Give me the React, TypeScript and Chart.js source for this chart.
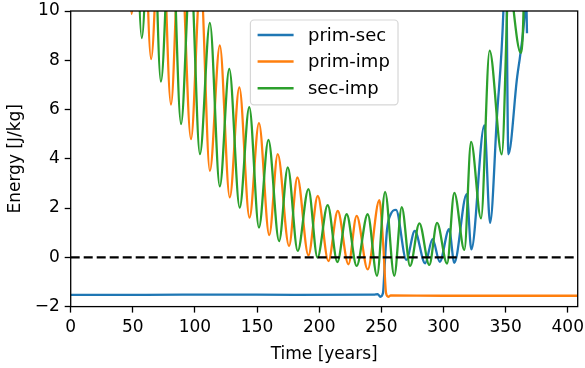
import React, { useEffect, useRef } from 'react';
import { Chart, registerables } from 'chart.js';

Chart.register(...registerables);

// ---- data (years, energy in J/kg) ----
const primSecYears = [0, 60, 120, 180, 244, 247, 249.2, 251.3, 252.7, 254.5, 257.5, 261.8, 270.1, 276.9, 285.2, 291.2, 297, 304.5, 308.7, 318.7, 322.4, 332.9, 337.5, 343, 348.2, 350, 352.2, 359, 365.6, 366.4, 367.2];
const primSecEnergy = [-1.52, -1.52, -1.51, -1.52, -1.51, -1.49, -1.6, -1.45, -0.3, 1.1, 1.75, 1.93, -0.1, 1.07, -0.24, 0.74, -0.18, 1.14, -0.22, 2.57, 0.32, 5.36, 1.4, 5.7, 10, 13.5, 4.18, 7.2, 10, 10.8, 9.1];

const primImpYears = [33, 41.3, 49, 56.7, 64.7, 72.6, 80.7, 88, 96.8, 104.5, 112, 120, 128, 135.7, 143.9, 151.5, 159.8, 166.6, 175.7, 182.4, 191.3, 198.8, 207.4, 214.9, 223.5, 230.1, 239, 248.4, 251.6, 253.8, 255.6, 257.5, 300, 350, 408];
const primImpEnergy = [12.5, 22, 9.88, 17.5, 8.05, 15, 6.2, 13.3, 4.8, 11.3, 3.51, 8.6, 2.43, 6.9, 1.61, 5.45, 0.9, 4.19, 0.46, 3.24, 0.08, 2.49, -0.15, 1.88, -0.28, 1.68, -0.49, 2.32, 0.43, -1.46, -1.6, -1.55, -1.56, -1.56, -1.56];

const secImpYears = [33, 41.3, 49.3, 57.2, 65, 72.6, 80.7, 88.8, 96.4, 104, 112, 120, 127.6, 136, 143.7, 151.5, 159.1, 167.7, 174.7, 182.7, 191.3, 198.6, 206.8, 214.6, 222.1, 230.1, 239, 246.5, 253, 260.4, 266.4, 273.1, 280.6, 288.6, 294.8, 302.9, 308.7, 316.8, 322.2, 330.2, 337.1, 346.9, 353.3, 356.5, 362.2, 364.5, 368];
const secImpEnergy = [24, 11.2, 19.5, 8.9, 16.5, 7.13, 14.2, 5.41, 11.8, 4.19, 9.52, 2.88, 7.65, 2.02, 6.1, 1.21, 4.77, 0.66, 3.65, 0.26, 2.77, -0.01, 2.12, -0.19, 1.75, -0.35, 1.75, -0.75, 2.66, -0.75, 2.04, -0.35, 1.38, -0.31, 1.4, -0.25, 2.62, 0.3, 4.69, 1.58, 8.39, 4.18, 12, 10, 8.3, 10.2, 22];

const zeroLineYears = [0, 408];
const zeroLineEnergy = [0, 0];

const seriesLabels = ['prim-sec', 'prim-imp', 'sec-imp'];
const xTickMin = 0;
const xTickMax = 408;
const xTickStep = 50;
const yTickMin = -2;
const yTickMax = 10;
const yTickStep = 2;

const FONT = '"DejaVu Sans", sans-serif';
const TICK_FS = 17;
const LEGEND_FS = 18;

const toPoints = (xs: number[], ys: number[]) => xs.map((x, i) => ({ x, y: ys[i] }));

const framePlugin = {
  id: 'frameAndLegend',
  afterDatasetsDraw(chart: any) {
    const { ctx, chartArea: a } = chart;
    ctx.save();
    ctx.strokeStyle = '#000';
    ctx.lineWidth = 1.3;
    ctx.strokeRect(a.left, a.top, a.right - a.left, a.bottom - a.top);
    ctx.restore();
  },
  afterDraw(chart: any) {
    const { ctx, chartArea: a } = chart;
    const fs = LEGEND_FS;
    const items = chart.data.datasets.filter((d: any) => d.label);
    ctx.save();
    ctx.font = `${fs}px ${FONT}`;
    const textW = Math.max(...items.map((d: any) => ctx.measureText(d.label).width));
    const pad = 0.4 * fs;
    const handle = 2 * fs;
    const gap = 0.8 * fs;
    const rowH = 1.48 * fs;
    const firstOff = 0.83 * fs;
    const lastOff = 0.93 * fs;
    const w = pad + handle + gap + textW + pad + 1;
    const h = firstOff + lastOff + rowH * (items.length - 1);
    const left = (a.left + a.right) / 2 - w / 2;
    const top = a.top + 0.5 * fs;
    const r = 0.2 * fs;
    ctx.beginPath();
    ctx.moveTo(left + r, top);
    ctx.lineTo(left + w - r, top);
    ctx.arcTo(left + w, top, left + w, top + r, r);
    ctx.lineTo(left + w, top + h - r);
    ctx.arcTo(left + w, top + h, left + w - r, top + h, r);
    ctx.lineTo(left + r, top + h);
    ctx.arcTo(left, top + h, left, top + h - r, r);
    ctx.lineTo(left, top + r);
    ctx.arcTo(left, top, left + r, top, r);
    ctx.closePath();
    ctx.fillStyle = 'rgba(255,255,255,0.8)';
    ctx.fill();
    ctx.strokeStyle = 'rgba(204,204,204,0.8)';
    ctx.lineWidth = 1.2;
    ctx.stroke();
    items.forEach((d: any, i: number) => {
      const y = top + firstOff + i * rowH;
      ctx.beginPath();
      ctx.moveTo(left + pad, y);
      ctx.lineTo(left + pad + handle, y);
      ctx.strokeStyle = d.borderColor;
      ctx.lineWidth = 2.5;
      ctx.stroke();
      ctx.fillStyle = '#000';
      ctx.textBaseline = 'middle';
      ctx.textAlign = 'left';
      ctx.fillText(d.label, left + pad + handle + gap, y + 1);
    });
    ctx.restore();
  },
};

export default function App() {
  const ref = useRef<HTMLCanvasElement | null>(null);
  useEffect(() => {
    document.body.style.margin = '0';
    const canvas = ref.current;
    if (!canvas) return;
    const lineBase = {
      pointRadius: 0,
      borderWidth: 2.3,
      cubicInterpolationMode: 'monotone' as const,
      fill: false,
      clip: 0,
    };
    const chart = new Chart(canvas, {
      type: 'line',
      data: {
        datasets: [
          { ...lineBase, label: seriesLabels[0], data: toPoints(primSecYears, primSecEnergy), borderColor: '#1f77b4', order: 3 },
          { ...lineBase, label: seriesLabels[1], data: toPoints(primImpYears, primImpEnergy), borderColor: '#ff7f0e', order: 2 },
          { ...lineBase, label: seriesLabels[2], data: toPoints(secImpYears, secImpEnergy), borderColor: '#2ca02c', order: 1 },
          { label: '', data: toPoints(zeroLineYears, zeroLineEnergy), borderColor: '#000', borderWidth: 2.3, borderDash: [9, 4], pointRadius: 0, tension: 0, order: 0, clip: 0 },
        ],
      },
      options: {
        animation: false,
        responsive: false,
        devicePixelRatio: 1,
        events: [],
        layout: { padding: { top: 11, right: 7.3, left: 0, bottom: 0 } },
        elements: { line: { capBezierPoints: false } },
        plugins: { legend: { display: false }, tooltip: { enabled: false } },
        scales: {
          x: {
            type: 'linear',
            min: xTickMin,
            max: xTickMax,
            afterFit: (s: any) => { s.height = 61.4; s.paddingLeft = 0; s.paddingRight = 0; },
            grid: { display: true, drawOnChartArea: false, drawTicks: true, tickLength: 6, tickColor: '#000', tickWidth: 1.3 },
            border: { display: false },
            ticks: { stepSize: xTickStep, includeBounds: false, color: '#000', padding: 5, font: { family: FONT, size: TICK_FS }, maxRotation: 0 },
            title: { display: true, text: 'Time [years]', color: '#000', font: { family: FONT, size: TICK_FS }, padding: { top: 0, bottom: 3 } },
          },
          y: {
            type: 'linear',
            min: yTickMin,
            max: yTickMax,
            afterFit: (s: any) => { s.width = 70.7; s.paddingTop = 0; s.paddingBottom = 0; },
            grid: { display: true, drawOnChartArea: false, drawTicks: true, tickLength: 6, tickColor: '#000', tickWidth: 1.3 },
            border: { display: false },
            ticks: {
              stepSize: yTickStep,
              color: '#000',
              padding: 5,
              font: { family: FONT, size: TICK_FS },
              callback: (v: any) => (Number(v) < 0 ? '\u2212' + Math.abs(Number(v)) : String(v)),
            },
            title: { display: true, text: 'Energy [J/kg]', color: '#000', font: { family: FONT, size: TICK_FS }, padding: { top: 5.6, bottom: 0 } },
          },
        },
      },
      plugins: [framePlugin],
    });
    return () => chart.destroy();
  }, []);
  return (
    <div style={{ position: 'absolute', left: 0, top: 0, width: 585, height: 368 }}>
      <canvas ref={ref} width={585} height={368} style={{ display: 'block', width: 585, height: 368 }} />
    </div>
  );
}
